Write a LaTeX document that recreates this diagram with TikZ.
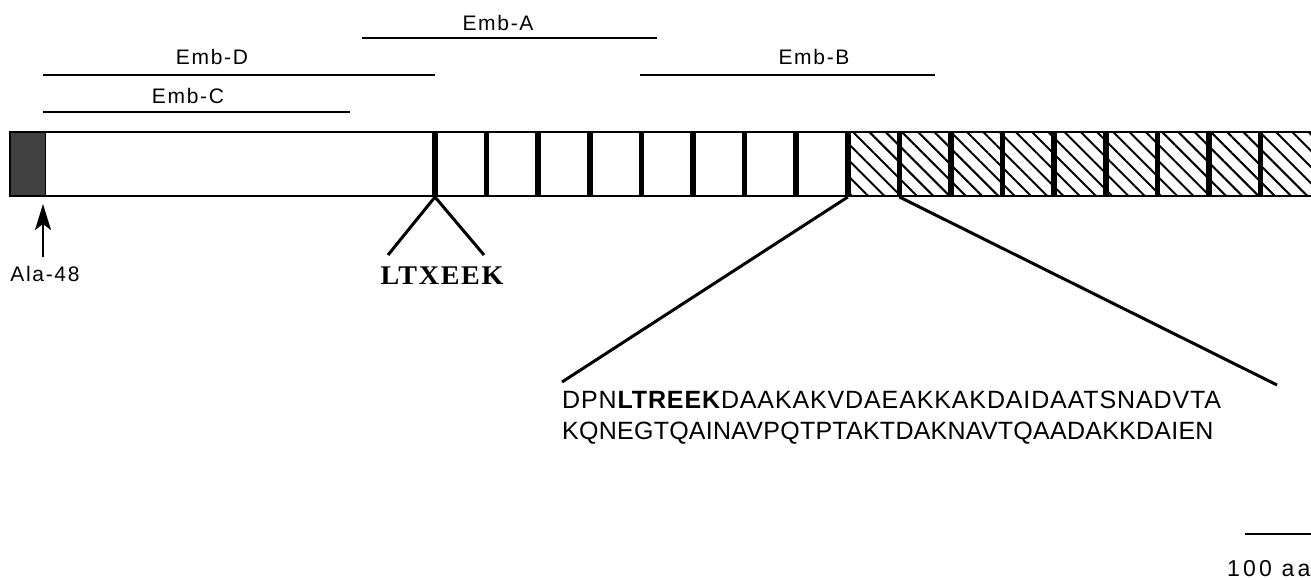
\documentclass[tikz,border=0pt]{standalone}
\usepackage{fontspec}
\setmainfont{Liberation Sans}
\newfontfamily\lab[LetterSpace=8]{Liberation Sans}
\newfontfamily\labw[LetterSpace=14]{Liberation Sans}
\newfontfamily\seqa[LetterSpace=3.5]{Liberation Sans}
\newfontfamily\seqb[LetterSpace=1]{Liberation Sans}
\newfontfamily\serb[LetterSpace=6]{Liberation Serif}
\usetikzlibrary{patterns.meta,arrows.meta}
\begin{document}
\begin{tikzpicture}[x=1pt,y=-1pt,line cap=butt,
  emb/.style={line width=2.6pt},
  lbl/.style={font=\lab\fontsize{21}{22}\selectfont, anchor=base, inner sep=0pt},
  divider/.style={line width=5.5pt},
  conn/.style={line width=3pt},
  seqtxt/.style={anchor=base west, inner sep=0pt}]
\useasboundingbox (0,0) rectangle (1311,580);

% Emb fragments
\coordinate (aL) at (362,38);  \coordinate (aR) at (657,38);
\coordinate (dL) at (43,75);   \coordinate (dR) at (435,75);
\coordinate (cL) at (43,112);  \coordinate (cR) at (350,112);
\coordinate (bL) at (640,75);  \coordinate (bR) at (935,75);
\draw[emb] (aL) -- (aR);
\draw[emb] (dL) -- (dR);
\draw[emb] (cL) -- (cR);
\draw[emb] (bL) -- (bR);
\node[lbl] (embA) at (498,31) {Emb-A};
\node[lbl] (embD) at (212,65) {Emb-D};
\node[lbl] (embC) at (188,104) {Emb-C};
\node[lbl] (embB) at (814,65) {Emb-B};

% bar
\fill[black!75] (10,132) rectangle (45,196);
\fill[pattern={Lines[angle=-45,distance=11.5pt,line width=2pt]}] (847.8,132) rectangle (1320,196);
\draw[line width=2.2pt] (1320,132) -- (10,132) -- (10,196) -- (1320,196);
\draw[line width=1pt] (45,132) -- (45,196);
\foreach \i in {0,...,16}{
  \draw[divider] ({435+51.6*\i},132) -- ({435+51.6*\i},196);
  \coordinate (d\i) at ({435+51.6*\i},197);
}

% Ala-48 arrow
\coordinate (arB) at (43,257);
\coordinate (arT) at (43,204);
\draw[line width=2.2pt, -{Stealth[length=26pt,width=16pt,inset=6pt]}] (arB) -- (arT);
\node[lbl] (ala) at (45,281) {Ala-48};

% LTXEEK
\coordinate (ltL) at (388,255);
\coordinate (ltR) at (484,255);
\draw[conn] (d0) -- (ltL);
\draw[conn] (d0) -- (ltR);
\node[anchor=base, inner sep=0pt, font=\serb\bfseries\fontsize{27}{29}\selectfont] (ltx) at (442,284) {\scalebox{1.04}[1]{LTXEEK}};

% repeat expansion
\coordinate (sL) at (562,382);
\coordinate (sR) at (1277,385);
\draw[conn] (d8) -- (sL);
\draw[conn] (d9) -- (sR);
\node[seqtxt, font=\seqa\fontsize{25}{27}\selectfont] (seq1) at (562,408) {DPN\textbf{LTREEK}DAAKAKVDAEAKKAKDAIDAATSNADVTA};
\node[seqtxt, font=\seqb\fontsize{25}{27}\selectfont] (seq2) at (562,439) {KQNEGTQAINAVPQTPTAKTDAKNAVTQAADAKKDAIEN};

% scale bar
\coordinate (sb1) at (1245,534);
\coordinate (sb2) at (1311,534);
\draw[line width=2.2pt] (sb1) -- (sb2);
\node[seqtxt, font=\labw\fontsize{23}{25}\selectfont] (sbt) at (1227,576) {100 aa};
\end{tikzpicture}
\end{document}
